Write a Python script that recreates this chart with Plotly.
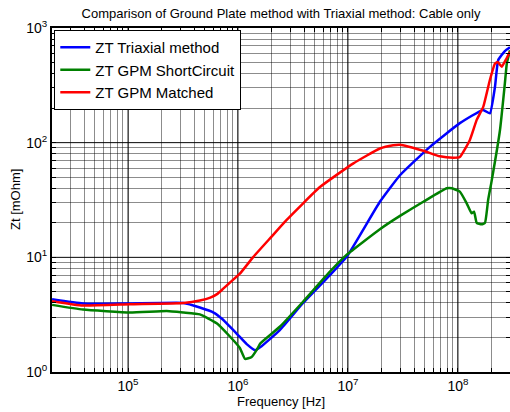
import plotly.graph_objects as go
import math

# ---------------- data ----------------
freq_triax = [2.04e4, 3.9e4, 1.0e5, 3.2e5, 4.5e5, 6.0e5, 7.2e5, 8.4e5, 1.0e6, 1.2e6, 1.43e6,
              1.6e6, 2.4e6, 3.9e6, 6.85e6, 1.0e7, 1.95e7, 2.97e7, 5.56e7, 1.04e8,
              1.69e8, 1.95e8, 2.17e8, 2.32e8, 2.67e8, 2.97e8]
zt_triax = [4.3, 3.95, 3.95, 4.0, 3.65, 3.3, 2.9, 2.5, 2.1, 1.75, 1.55,
            1.65, 2.32, 4.0, 7.0, 10.5, 30.5, 52, 92, 148,
            193, 180, 307, 524, 630, 680]

freq_short = [2.04e4, 3.9e4, 1.04e5, 2.25e5, 3.2e5, 4.5e5, 6.4e5, 8.4e5, 1.04e6, 1.16e6,
              1.33e6, 1.48e6, 1.6e6, 2.4e6, 3.9e6, 6.85e6, 9.7e6, 1.95e7, 2.97e7,
              4.84e7, 7.9e7, 8.8e7, 1.04e8, 1.2e8, 1.33e8, 1.4e8, 1.48e8, 1.64e8,
              1.76e8, 1.88e8, 2.02e8, 2.41e8, 2.67e8, 2.78e8, 2.97e8]
zt_short = [3.85, 3.5, 3.3, 3.4, 3.3, 3.18, 2.66, 2.05, 1.62, 1.3,
            1.35, 1.56, 1.78, 2.48, 4.1, 7.5, 10.5, 17.6, 23,
            30.5, 40, 40, 37.4, 29.6, 24.2, 25, 20, 19.4,
            20, 31.6, 46, 129, 330, 490, 640]

freq_match = [2.04e4, 3.9e4, 1.04e5, 3.2e5, 4.5e5, 5.6e5, 6.5e5, 7.3e5, 8.4e5, 1.04e6, 1.38e6,
              2.0e6, 2.77e6, 5.56e6, 1.12e7, 1.95e7, 2.58e7, 2.97e7, 4.84e7, 6.85e7, 9.06e7,
              1.04e8, 1.28e8, 1.48e8, 1.7e8, 1.95e8, 2.17e8, 2.3e8, 2.5e8, 2.77e8, 2.97e8]
zt_match = [4.15, 3.8, 3.9, 4.0, 4.2, 4.45, 4.8, 5.3, 6.0, 7.2, 10.1,
            15.0, 21.2, 41, 66, 89, 95, 96, 85, 76, 74,
            75, 105, 158, 206, 352, 490, 505, 460, 545, 620]

series_names = ["ZT Triaxial method", "ZT GPM ShortCircuit", "ZT GPM Matched"]
series_colors = ["#0000ff", "#008000", "#ff0000"]

title_text = "Comparison of Ground Plate method with Triaxial method: Cable only"
x_label = "Frequency [Hz]"
y_label = "Zt [mOhm]"

x_decades = [4, 5, 6, 7, 8]
y_decades = [0, 1, 2]
x_range = [4.309, 8.473]
y_range = [0, 3]

# ---------------- ticks / grid ----------------
def log_ticks(decades, lo, hi, label_decades):
    vals, texts = [], []
    for d in decades:
        for k in range(1, 10):
            v = k * 10 ** d
            lv = math.log10(v)
            if lo - 1e-9 <= lv <= hi + 1e-9:
                vals.append(v)
                texts.append(f"10<sup>{d}</sup>" if (k == 1 and d in label_decades) else "")
    top = 10 ** (decades[-1] + 1)
    if math.log10(top) <= hi + 1e-9:
        vals.append(top)
        texts.append(f"10<sup>{decades[-1] + 1}</sup>")
    return vals, texts

xt_vals, xt_text = log_ticks(x_decades, *x_range, label_decades=[5, 6, 7, 8])
yt_vals, yt_text = log_ticks(y_decades, *y_range, label_decades=[0, 1, 2])

FONT = "Liberation Sans, Arial, Helvetica, sans-serif"

fig = go.Figure()
for f, z, name, col in [(freq_triax, zt_triax, series_names[0], series_colors[0]),
                        (freq_short, zt_short, series_names[1], series_colors[1]),
                        (freq_match, zt_match, series_names[2], series_colors[2])]:
    fig.add_trace(go.Scatter(x=f, y=z, mode="lines", name=name,
                             line=dict(color=col, width=2.5, shape="spline", smoothing=0.4)))

shapes = []
for d in x_decades:
    v = 10 ** d
    if x_range[0] < d < x_range[1]:
        shapes.append(dict(type="line", xref="x", yref="paper", x0=v, x1=v, y0=0, y1=1,
                           line=dict(color="rgba(0,0,0,0.85)", width=1), layer="below"))
for d in y_decades:
    v = 10 ** d
    if y_range[0] < d < y_range[1]:
        shapes.append(dict(type="line", xref="paper", yref="y", x0=0, x1=1, y0=v, y1=v,
                           line=dict(color="rgba(0,0,0,0.85)", width=1), layer="below"))

axis_common = dict(type="log", showgrid=True, gridcolor="rgba(0,0,0,0.45)", gridwidth=1,
                   showline=True, linecolor="black", linewidth=2, mirror="ticks",
                   ticks="inside", ticklen=4, tickcolor="black", tickwidth=1,
                   tickfont=dict(size=14, color="black", family=FONT), zeroline=False,
                   automargin=False)

fig.update_layout(
    width=510, height=412,
    margin=dict(l=52, r=0, t=28, b=40),
    paper_bgcolor="white", plot_bgcolor="white",
    font=dict(family=FONT, color="black"),
    title=dict(text=title_text, font=dict(size=13, color="black"),
               x=0.5, xref="paper", xanchor="center",
               y=1 - 13 / 412, yref="container", yanchor="middle", automargin=False),
    xaxis=dict(range=x_range, tickvals=xt_vals, ticktext=xt_text, **axis_common),
    yaxis=dict(range=y_range, tickvals=yt_vals, ticktext=yt_text, **axis_common),
    legend=dict(x=0.005, y=0.994, xanchor="left", yanchor="top",
                bgcolor="white", bordercolor="black", borderwidth=1,
                font=dict(size=15, color="black"), tracegroupgap=0,
                itemwidth=30),
    shapes=shapes,
    annotations=[
        dict(text=x_label, xref="paper", yref="paper", x=0.5, y=0, yshift=-29,
             xanchor="center", yanchor="middle", showarrow=False,
             font=dict(size=13, color="black")),
        dict(text=y_label, xref="paper", yref="paper", x=0, y=0.5, xshift=-37,
             xanchor="center", yanchor="middle", showarrow=False, textangle=-90,
             font=dict(size=13, color="black")),
    ],
    showlegend=True,
)

fig.write_html("out.html", config={"displayModeBar": False},
               post_script="document.body.style.margin='0';document.body.style.overflow='hidden';")
